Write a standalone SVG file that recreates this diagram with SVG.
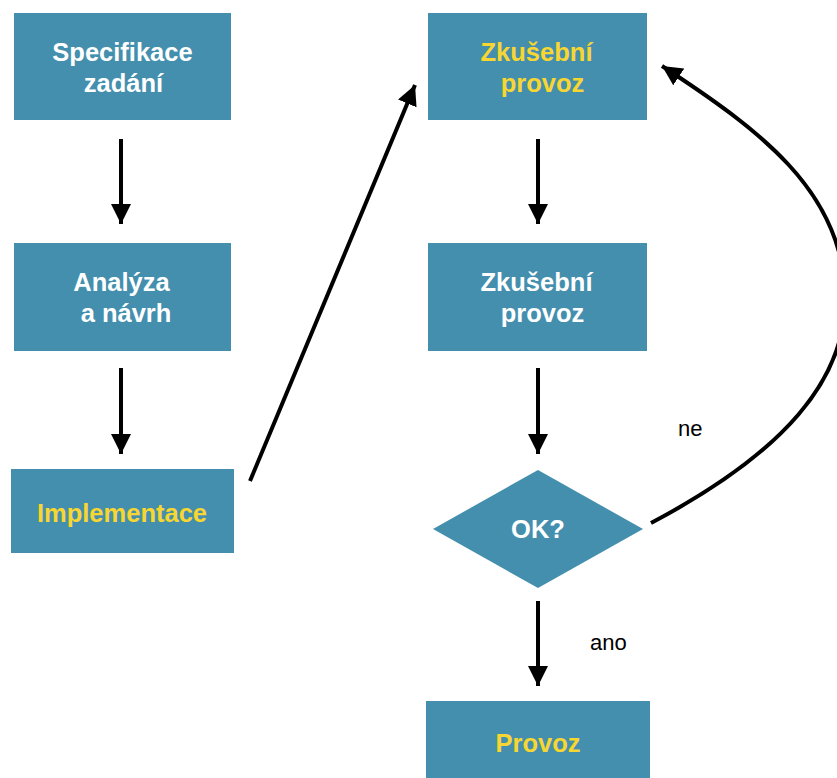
<svg xmlns="http://www.w3.org/2000/svg" width="837" height="778" viewBox="0 0 837 778">
  <style>
    .box { fill: #448fae; }
    .lbl { font-family: "Liberation Sans", Arial, sans-serif; font-weight: bold; font-size: 25.5px; text-anchor: middle; }
    .w { fill: #ffffff; }
    .y { fill: #f8d631; }
    .edge { stroke: #000000; stroke-width: 4; fill: none; }
    .note { font-family: "Liberation Sans", Arial, sans-serif; font-size: 22px; fill: #000000; }
  </style>
  <defs>
    <marker id="head" viewBox="0 0 10 10" refX="10" refY="5" markerWidth="5" markerHeight="5" markerUnits="strokeWidth" orient="auto">
      <path d="M0,0 L10,5 L0,10 z" fill="#000000"/>
    </marker>
  </defs>

  <rect width="837" height="778" fill="#ffffff"/>

  <g id="spec">
    <rect class="box" x="14" y="13" width="217" height="107"/>
    <text class="lbl w" x="122.5" y="61">Specifikace</text>
    <text class="lbl w" x="123.5" y="92">zadání</text>
  </g>

  <g id="analyza">
    <rect class="box" x="14" y="243" width="217" height="108"/>
    <text class="lbl w" x="121.5" y="291">Analýza</text>
    <text class="lbl w" x="126" y="322">a návrh</text>
  </g>

  <g id="implementace">
    <rect class="box" x="11" y="469" width="223" height="84"/>
    <text class="lbl y" x="122" y="522">Implementace</text>
  </g>

  <g id="zkusebni1">
    <rect class="box" x="428" y="13" width="219" height="107"/>
    <text class="lbl y" x="536.5" y="61">Zkušební</text>
    <text class="lbl y" x="542.5" y="92">provoz</text>
  </g>

  <g id="zkusebni2">
    <rect class="box" x="428" y="243" width="219" height="108"/>
    <text class="lbl w" x="536.5" y="291">Zkušební</text>
    <text class="lbl w" x="542.5" y="322">provoz</text>
  </g>

  <g id="ok">
    <polygon class="box" points="538,470 643,529 538,588 433,529"/>
    <text class="lbl w" x="538" y="538">OK?</text>
  </g>

  <g id="provoz">
    <rect class="box" x="426" y="701" width="224" height="80"/>
    <text class="lbl y" x="538" y="752">Provoz</text>
  </g>

  <g id="connectors">
    <line class="edge" x1="121" y1="139" x2="121" y2="224" marker-end="url(#head)"/>
    <line class="edge" x1="121" y1="368" x2="121" y2="454" marker-end="url(#head)"/>
    <line class="edge" x1="250" y1="481" x2="415" y2="85" marker-end="url(#head)"/>
    <line class="edge" x1="538" y1="139" x2="538" y2="224" marker-end="url(#head)"/>
    <line class="edge" x1="538" y1="368" x2="538" y2="454" marker-end="url(#head)"/>
    <line class="edge" x1="538" y1="601" x2="538" y2="686" marker-end="url(#head)"/>
    <path class="edge" d="M651,523 C780,455 850,380 845,290 C840,190 760,130 662,66" marker-end="url(#head)"/>
    <text class="note" x="678" y="436">ne</text>
    <text class="note" x="590" y="650">ano</text>
  </g>
</svg>
